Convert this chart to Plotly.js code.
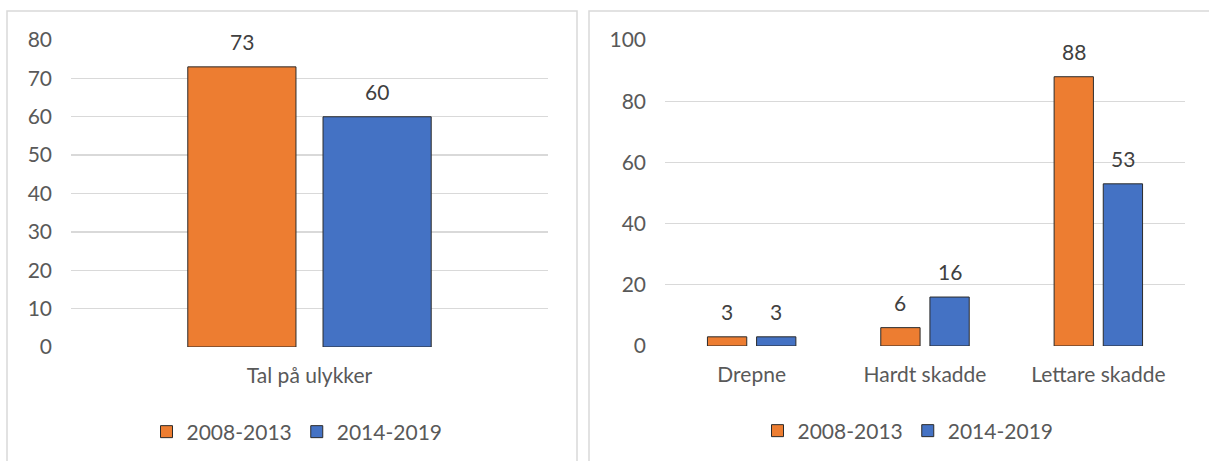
<!DOCTYPE html>
<html>
<head>
<meta charset="utf-8">
<script src="https://cdn.plot.ly/plotly-3.0.1.min.js"></script>
<style>html,body{margin:0;padding:0;background:#fff;}#chart{width:1209px;height:461px;}</style>
</head>
<body>
<div id="chart"></div>
<script>
const seriesNames = ['2008-2013', '2014-2019'];
const leftCategories = ['Tal på ulykker'];
const leftValues2008 = [73];
const leftValues2014 = [60];
const rightCategories = ['Drepne', 'Hardt skadde', 'Lettare skadde'];
const rightValues2008 = [3, 6, 88];
const rightValues2014 = [3, 16, 53];
const leftTicks = [0, 10, 20, 30, 40, 50, 60, 70, 80];
const rightTicks = [0, 20, 40, 60, 80, 100];

const W = 1209, H = 461;
const ORANGE = '#ED7D31', BLUE = '#4472C4';
const FONT = 'Lato, "Open Sans", sans-serif';
const TXT = '#595959';
const GRID = '#D9D9D9';
const BARGAP = 0.433;

function px(x) { return x / W; }
function py(y) { return 1 - y / H; }

const barLine = {color: '#2b2b2b', width: 1};

const traces = [
  {type: 'bar', name: seriesNames[0], x: leftCategories, y: leftValues2008, xaxis: 'x', yaxis: 'y',
   marker: {color: ORANGE, line: barLine}, legend: 'legend', hoverinfo: 'skip'},
  {type: 'bar', name: seriesNames[1], x: leftCategories, y: leftValues2014, xaxis: 'x', yaxis: 'y',
   marker: {color: BLUE, line: barLine}, legend: 'legend', hoverinfo: 'skip'},
  {type: 'bar', name: seriesNames[0], x: rightCategories, y: rightValues2008, xaxis: 'x2', yaxis: 'y2',
   marker: {color: ORANGE, line: barLine}, legend: 'legend2', hoverinfo: 'skip'},
  {type: 'bar', name: seriesNames[1], x: rightCategories, y: rightValues2014, xaxis: 'x2', yaxis: 'y2',
   marker: {color: BLUE, line: barLine}, legend: 'legend2', hoverinfo: 'skip'}
];

const annotations = [];
const half = (1 - BARGAP) / 4;
function addLabels(vals, offset, xref, yref) {
  vals.forEach((v, i) => {
    annotations.push({x: i + offset, y: v, xref: xref, yref: yref, text: String(v),
      showarrow: false, yanchor: 'bottom', yshift: 11,
      font: {family: FONT, size: 21, color: '#404040'}});
  });
}
addLabels(leftValues2008, -half, 'x', 'y');
addLabels(leftValues2014, half, 'x', 'y');
addLabels(rightValues2008, -half, 'x2', 'y2');
addLabels(rightValues2014, half, 'x2', 'y2');

const yCommon = {showgrid: true, gridcolor: GRID, gridwidth: 1.3, zeroline: false, showline: false,
  ticks: '', ticklabelstandoff: 18, tickfont: {family: FONT, size: 21, color: TXT}, fixedrange: true};
const xCommon = {type: 'category', showgrid: false, zeroline: false, showline: false, ticks: '',
  ticklabelstandoff: 14, tickfont: {family: FONT, size: 21, color: TXT}, fixedrange: true};

const legendCommon = {orientation: 'h', xanchor: 'center', yanchor: 'middle',
  font: {family: FONT, size: 21, color: TXT}, bgcolor: 'rgba(0,0,0,0)', itemclick: false, itemdoubleclick: false};

const layout = {
  width: W, height: H,
  margin: {l: 0, r: 0, t: 0, b: 0},
  paper_bgcolor: '#fff', plot_bgcolor: '#fff',
  barmode: 'group', bargap: BARGAP, bargroupgap: 0.2,
  showlegend: true,
  xaxis: Object.assign({}, xCommon, {domain: [px(71), px(548)], anchor: 'y'}),
  yaxis: Object.assign({}, yCommon, {domain: [py(347), py(40)], range: [0, 80], tickvals: leftTicks, anchor: 'x'}),
  xaxis2: Object.assign({}, xCommon, {domain: [px(665), px(1185)], anchor: 'y2'}),
  yaxis2: Object.assign({}, yCommon, {domain: [py(346), py(40)], range: [0, 100], tickvals: rightTicks, anchor: 'x2'}),
  legend: Object.assign({}, legendCommon, {x: px(297), y: py(432)}),
  legend2: Object.assign({}, legendCommon, {x: px(908), y: py(431)}),
  annotations: annotations,
  shapes: [
    {type: 'rect', xref: 'paper', yref: 'paper', x0: px(7), x1: px(577), y0: py(470), y1: py(11),
     line: {color: GRID, width: 1.5}, fillcolor: 'rgba(0,0,0,0)', layer: 'below'},
    {type: 'rect', xref: 'paper', yref: 'paper', x0: px(589), x1: px(1220), y0: py(470), y1: py(11),
     line: {color: GRID, width: 1.5}, fillcolor: 'rgba(0,0,0,0)', layer: 'below'}
  ]
};

Plotly.newPlot('chart', traces, layout, {displayModeBar: false, staticPlot: true});
</script>
</body>
</html>
